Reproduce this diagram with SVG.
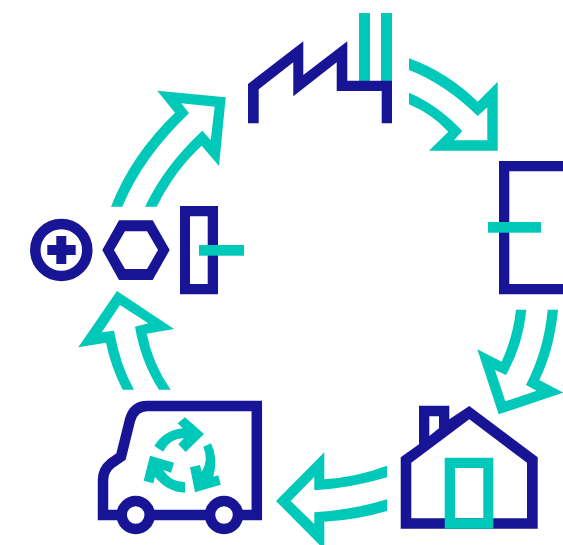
<svg xmlns="http://www.w3.org/2000/svg" width="563" height="545" viewBox="0 0 563 545">
<style>
.n{fill:#181496}
.t{fill:#00c9b9}
.ns{fill:none;stroke:#181496;stroke-width:10.5;stroke-miterlimit:10}
.ts{fill:none;stroke:#00c9b9;stroke-width:10.5;stroke-miterlimit:10}
</style>
<rect width="563" height="545" fill="#fff"/>
<g id="connectors">
<path class="t" d="M409 92.7Q438 105 462.3 131L454 140.3H487.3V107.3L477.7 116Q445 84 409 70V58.3Q447 72 477.7 101.7L497.7 81.7V150.7H429L448.3 131.7Q432 114 409 104.3Z"/>
<path class="t" d="M516 309.7Q513 337 501.7 361.7L477.3 349.3L498.7 414.3L563.3 392.7L539.3 380Q554 350 558 309.7H547.7Q544 350 526 385L536.7 390.7L505.3 401.3L495 370L506 375Q523 345 526.3 309.7Z"/>
<path class="t" d="M387 465.7Q357 477 324.3 479.3V452.3L276 501L324.3 549.7V521.7Q357 520 387 511V499.3Q352 510 314.3 512.3V524L290.7 501L314.3 476.7V490.3Q352 488 387 477.3Z"/>
<path class="t" d="M122.7 389.7Q111 367 106 342.7L78.3 347.3L117 291L174 329L146.7 333.7Q153 365 170.7 389.7H159Q141 362 135 326.7L148.3 323.3L120 305L101.7 332.3L114 330.7Q120 365 134 389.7Z"/>
<path class="t" d="M111 206.7Q131 155 175 112.7L157.3 90.7L225.7 97.3L219 166L201.7 145.7Q175 170 156.7 206.7H145Q165 165 202.3 130.7L210.7 140L214.7 106.7L181.3 103.3L189 113.3Q143 157 122.3 206.7Z"/>
</g>
<g id="factory">
<rect class="t" x="359" y="13" width="11" height="68"/>
<rect class="t" x="381" y="13" width="11" height="68"/>
<path class="n" d="M248 84L303.3 41.3V75L347.3 41.3V80.7H392V123.3H381.7V91H336.7V62.3L293.3 96.3V62.3L258.7 89.3V123.3H248Z"/>
</g>
<g id="product">
<path class="n" d="M499 161H563V171.300H509.300V284H563V294.300H499Z"/>
<rect class="t" x="488" y="222" width="53" height="10.700"/>
</g>
<g id="house">
<path class="n" fill-rule="evenodd" d="M400.700 528.700V457.300L419 444.300V405.700H449.300V419.300L469.300 406L537.700 457.300V528.700ZM411.300 518.300H527V462.700L469.300 419.300L411.300 462.700ZM429.300 416.300V436L439 428.300V416.300Z"/>
<path class="t" fill-rule="evenodd" d="M444.700 457.700H493.300V528.700H444.700ZM455 468V518.300H483.300V468Z"/>
</g>
<g id="truck">
<path class="ns" d="M103 515V480Q103 470 111 463.500L121 456.500L130 420Q134 406 147.300 406H256.800V515Z"/>
<circle cx="135.700" cy="515" r="14" fill="#fff" stroke="#181496" stroke-width="10.500"/>
<circle cx="224" cy="515" r="14" fill="#fff" stroke="#181496" stroke-width="10.500"/>
<path class="t" d="M154.300 446Q163.300 430.700 182.700 428.300L177.700 423.300L185 417.300L204 434L185.700 452L178.300 444.300L184 438.300Q170 438.300 163.300 451.700Z"/>
<path class="t" d="M203.300 446.700L211 443.300Q218.300 458.300 213.300 476.700L218.300 475.300L220.700 484.700L195 492.300L190 467.300L200 465L201.700 471.700Q209 460 203.300 446.700Z"/>
<path class="t" d="M150 455.700L174 462.700L171 472.700L163.300 470Q170 481.700 185 482.300V492.700Q166.700 491.700 155 476.700L153.300 483.300L143.700 480.700Z"/>
</g>
<g id="parts">
<circle class="ns" cx="61.300" cy="250" r="26"/>
<path class="n" d="M56.300 236H66.300V245H75.700V255H66.300V264H56.300V255H47.300V245H56.300Z"/>
<path class="n" fill-rule="evenodd" d="M102.300 250L119 220.300H152.700L169.700 250L152.700 280H119ZM114 250L125 269H147L158 250L147 231.300H125Z"/>
<path class="n" fill-rule="evenodd" d="M180 206H218V294.300H180ZM190 216.300V284H207.700V216.300Z"/>
<rect class="t" x="199" y="245" width="45" height="10.700"/>
</g>
</svg>
